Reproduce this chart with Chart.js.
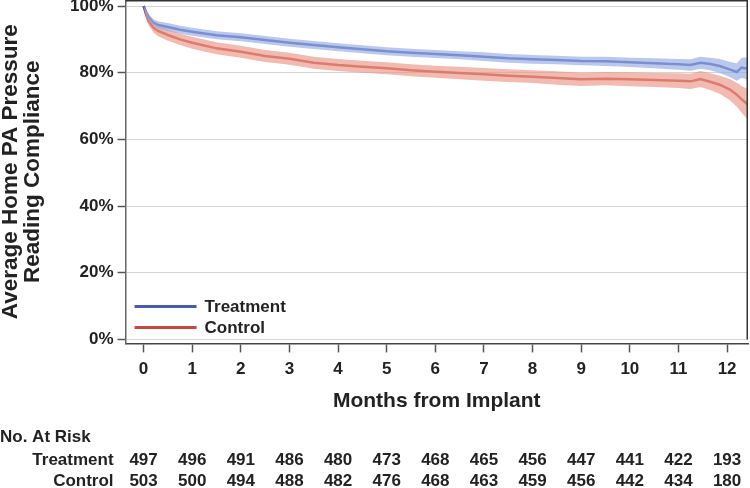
<!DOCTYPE html>
<html>
<head>
<meta charset="utf-8">
<script src="https://cdn.jsdelivr.net/npm/chart.js@4"></script>
<style>
  html, body { margin: 0; padding: 0; background: #fff; }
  #wrap { width: 750px; height: 488px; }
</style>
</head>
<body>
<div id="wrap"><canvas id="compliancechart" width="750" height="488"></canvas></div>
<script>
// months from implant
const months = [0, 0.05, 0.1, 0.2, 0.3, 0.5, 0.75, 1, 1.5, 2, 2.5, 3, 3.5, 4, 4.5, 5, 5.5, 6, 6.5, 7, 7.5, 8, 8.5, 9, 9.5, 10, 10.5, 11, 11.25, 11.45, 11.65, 11.85, 12.05, 12.2, 12.3, 12.43];

const treatment = [100, 98.2, 96.8, 95.0, 94.3, 93.7, 92.9, 92.3, 91.2, 90.6, 89.8, 89.0, 88.3, 87.6, 87.0, 86.4, 86.0, 85.6, 85.2, 84.8, 84.3, 84.0, 83.8, 83.5, 83.4, 83.1, 82.8, 82.5, 82.3, 83.0, 82.6, 82.0, 81.0, 80.2, 81.5, 81.2];
const treatmentLow = [100, 97.4, 95.9, 94.0, 93.2, 92.5, 91.7, 91.1, 90.0, 89.4, 88.6, 87.8, 87.1, 86.4, 85.8, 85.2, 84.8, 84.4, 84.0, 83.5, 83.0, 82.7, 82.5, 82.2, 82.0, 81.7, 81.3, 80.9, 80.6, 81.2, 80.7, 79.9, 78.7, 77.6, 78.5, 77.8];
const treatmentHigh = [100, 99.0, 97.7, 96.0, 95.4, 94.9, 94.1, 93.5, 92.4, 91.8, 91.0, 90.2, 89.5, 88.8, 88.2, 87.6, 87.2, 86.8, 86.4, 86.1, 85.6, 85.3, 85.1, 84.8, 84.8, 84.5, 84.3, 84.1, 84.0, 84.8, 84.5, 84.1, 83.3, 82.8, 84.5, 84.6];

const control = [100, 97.5, 95.5, 93.5, 92.5, 91.3, 90.0, 89.0, 87.3, 86.3, 85.0, 84.2, 83.0, 82.3, 81.8, 81.3, 80.7, 80.3, 79.9, 79.5, 79.1, 78.8, 78.4, 78.0, 78.2, 78.0, 77.8, 77.6, 77.4, 78.1, 77.3, 76.4, 75.0, 73.4, 72.0, 70.4];
const controlLow = [100, 96.5, 94.3, 92.1, 90.9, 89.6, 88.3, 87.2, 85.5, 84.5, 83.2, 82.4, 81.2, 80.5, 80.0, 79.5, 78.9, 78.5, 78.0, 77.6, 77.2, 76.9, 76.4, 76.0, 76.2, 75.9, 75.7, 75.4, 75.1, 75.7, 74.8, 73.7, 71.8, 69.8, 68.0, 65.8];
const controlHigh = [100, 98.5, 96.7, 94.9, 94.1, 93.0, 91.7, 90.8, 89.1, 88.1, 86.8, 86.0, 84.8, 84.1, 83.6, 83.1, 82.5, 82.1, 81.8, 81.4, 81.0, 80.7, 80.4, 80.0, 80.2, 80.1, 79.9, 79.8, 79.7, 80.5, 79.8, 79.1, 78.2, 77.0, 76.0, 75.0];

// number at risk, one per month tick 0..12
const riskMonths = [0, 1, 2, 3, 4, 5, 6, 7, 8, 9, 10, 11, 12];
const riskTreatment = [497, 496, 491, 486, 480, 473, 468, 465, 456, 447, 441, 422, 193];
const riskControl = [503, 500, 494, 488, 482, 476, 468, 463, 459, 456, 442, 434, 180];

const FONT = "'Liberation Sans', Arial, sans-serif";
const BLUE = "rgb(72, 92, 172)";
const BLUE_BAND = "rgba(150, 170, 228, 0.65)";
const RED = "rgb(196, 72, 64)";
const RED_BAND = "rgba(234, 150, 135, 0.65)";

function pts(ys) {
    return months.map((m, i) => ({ x: m, y: ys[i] }));
}

// box on top/right, legend inside plot, at-risk table under the axis
const extras = {
    id: "extras",
    afterDatasetsDraw(chart) {
        const ctx = chart.ctx;
        const a = chart.chartArea;
        const y0 = chart.scales.y.getPixelForValue(0);
        ctx.save();
        ctx.strokeStyle = "#333";
        ctx.lineWidth = 1.5;
        ctx.beginPath();
        ctx.moveTo(a.left, a.top + 0.75);
        ctx.lineTo(a.right - 0.75, a.top + 0.75);
        ctx.lineTo(a.right - 0.75, y0);
        ctx.stroke();

        // legend
        const items = [
            { text: "Treatment", color: BLUE, dy: 37 },
            { text: "Control", color: RED, dy: 16 }
        ];
        ctx.font = "bold 17px " + FONT;
        ctx.textBaseline = "middle";
        ctx.textAlign = "left";
        items.forEach(it => {
            const y = a.bottom - it.dy;
            ctx.strokeStyle = it.color;
            ctx.lineWidth = 3;
            ctx.beginPath();
            ctx.moveTo(a.left + 9, y);
            ctx.lineTo(a.left + 71, y);
            ctx.stroke();
            ctx.fillStyle = "#222";
            ctx.fillText(it.text, a.left + 79, y + 1);
        });
        ctx.restore();
    },
    afterDraw(chart) {
        const ctx = chart.ctx;
        const x = chart.scales.x;
        const a = chart.chartArea;
        const h = chart.height;
        ctx.save();
        ctx.font = "bold 17px " + FONT;
        ctx.fillStyle = "#222";
        ctx.textBaseline = "middle";
        ctx.textAlign = "left";
        ctx.fillText("No. At Risk", 0, h - 51);
        ctx.textAlign = "right";
        ctx.fillText("Treatment", a.left - 12, h - 28);
        ctx.fillText("Control", a.left - 12, h - 7);
        ctx.textAlign = "center";
        riskMonths.forEach((m, i) => {
            const px = x.getPixelForValue(m);
            ctx.fillText(String(riskTreatment[i]), px, h - 28);
            ctx.fillText(String(riskControl[i]), px, h - 7);
        });
        ctx.restore();
    }
};

const el = document.getElementById("compliancechart");

new Chart(el, {
    type: "line",
    data: {
        datasets: [
            { label: "tlo", data: pts(treatmentLow), borderWidth: 0, pointRadius: 0, fill: false },
            { label: "thi", data: pts(treatmentHigh), borderWidth: 0, pointRadius: 0, fill: "-1", backgroundColor: BLUE_BAND },
            { label: "clo", data: pts(controlLow), borderWidth: 0, pointRadius: 0, fill: false },
            { label: "chi", data: pts(controlHigh), borderWidth: 0, pointRadius: 0, fill: "-1", backgroundColor: RED_BAND },
            { label: "Treatment", data: pts(treatment), borderColor: BLUE, borderWidth: 2.5, pointRadius: 0, fill: false },
            { label: "Control", data: pts(control), borderColor: RED, borderWidth: 2.5, pointRadius: 0, fill: false }
        ]
    },
    options: {
        responsive: false,
        animation: false,
        events: [],
        layout: { padding: { left: 0, right: 2, top: 0, bottom: 74 } },
        plugins: {
            legend: { display: false },
            tooltip: { enabled: false }
        },
        scales: {
            x: {
                type: "linear",
                min: -0.37,
                max: 12.43,
                border: { color: "#444", width: 1.5 },
                grid: { drawOnChartArea: false, tickLength: 9, tickColor: "#555", tickWidth: 1.5 },
                ticks: {
                    stepSize: 1,
                    includeBounds: false,
                    padding: 7,
                    color: "#222",
                    font: { family: FONT, size: 17, weight: "bold" }
                },
                title: {
                    display: true,
                    text: "Months from Implant",
                    color: "#222",
                    padding: { top: 2, bottom: 0 },
                    font: { family: FONT, size: 21, weight: "bold" }
                }
            },
            y: {
                min: -1.2,
                max: 101.8,
                // let the 100% label hang over the top edge like the original
                afterFit: s => { s.paddingTop = 0; },
                border: { color: "#666", width: 1.5 },
                grid: { color: "#d4d4d4", tickColor: "#555", tickLength: 8, tickWidth: 1.5 },
                ticks: {
                    stepSize: 20,
                    includeBounds: false,
                    padding: 4,
                    color: "#222",
                    font: { family: FONT, size: 17, weight: "bold" },
                    callback: v => v + "%"
                },
                title: {
                    display: true,
                    text: ["Average Home PA Pressure", "Reading Compliance"],
                    color: "#222",
                    padding: { top: 0, bottom: 22 },
                    font: { family: FONT, size: 22.5, weight: "bold", lineHeight: 0.98 }
                }
            }
        }
    },
    plugins: [extras]
});
</script>
</body>
</html>
